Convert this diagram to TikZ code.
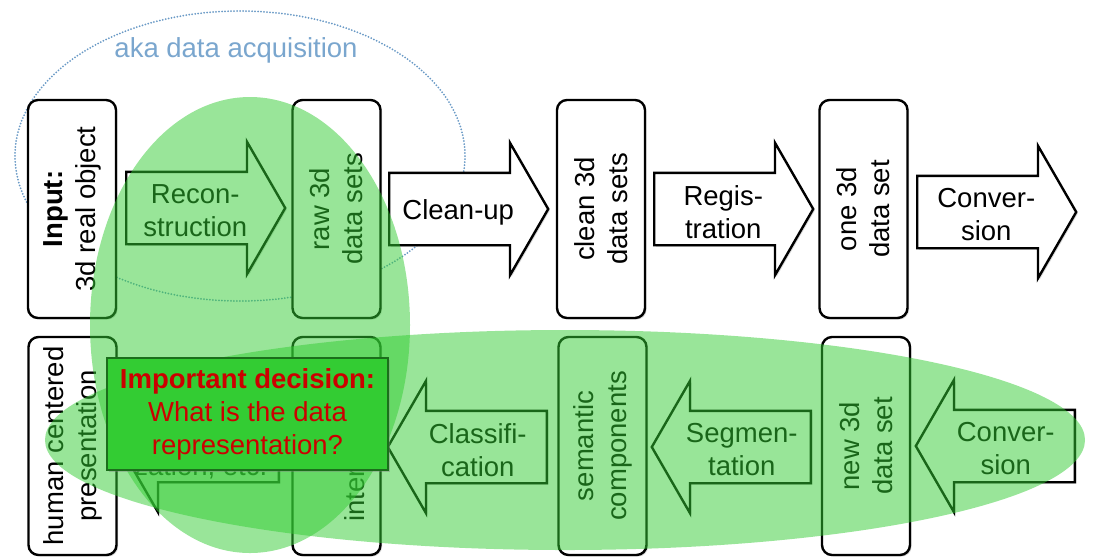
\documentclass[tikz,border=0pt]{standalone}
\usepackage{fontspec}
\setmainfont{Liberation Sans}
\usetikzlibrary{positioning, shapes.arrows, shadows}
\definecolor{acqblue}{HTML}{7AA6CE}
\definecolor{acqdots}{HTML}{6A9AC6}
\definecolor{blobgreen}{HTML}{33CC33}
\definecolor{decfill}{HTML}{33CC33}
\definecolor{decline}{HTML}{1B6E1B}
\definecolor{decred}{HTML}{CC0000}
\tikzset{
  stage/.style={rectangle, draw, rounded corners=5pt, line width=1.2pt, fill=white,
    rotate=90, minimum width=109pt, minimum height=44pt, inner sep=2pt, align=center,
    drop shadow={shadow xshift=0.8pt, shadow yshift=-0.8pt, opacity=0.3}},
  fwd arrow/.style={single arrow, draw, line width=1.2pt, fill=white,
    single arrow head extend=15pt, single arrow tip angle=120, minimum height=79.5pt,
    inner sep=2pt, anchor=tail,
    drop shadow={shadow xshift=0.8pt, shadow yshift=-0.8pt, opacity=0.3},
    execute at begin node={\begin{minipage}[c][31pt][c]{56pt}\centering\vspace*{3pt}},
    execute at end node={\end{minipage}}},
  back arrow/.style={fwd arrow, shape border rotate=180},
  blob/.style={fill=blobgreen, fill opacity=0.5},
}

\begin{document}
\begin{tikzpicture}[x=0.5pt, y=-0.5pt, font=\fontsize{13.75pt}{16.5pt}\selectfont]
  \useasboundingbox (0,0) rectangle (1095,559);
  % acquisition
  \draw[acqdots, line width=1pt, dash pattern=on 0pt off 1.5pt, line cap=round]
    (240,156) ellipse [x radius=112.5pt, y radius=72.5pt];
  \node[acqblue, anchor=base] (aka) at (236,57) {aka data acquisition};
  % first row
  \node[stage] (input) at (72,209) {\textbf{Input:}\\3d real object};
  \node[stage] (raw) at (336.5,209) {raw 3d\\data sets};
  \node[stage] (clean) at (601,209) {clean 3d\\data sets};
  \node[stage] (one) at (863.5,209) {one 3d\\data set};
  \node[fwd arrow] (recon) at (125,208) {Recon-\\struction};
  \node[fwd arrow] (cleanup) at (388,209) {Clean-up};
  \node[fwd arrow] (regis) at (653,209) {Regis-\\tration};
  \node[fwd arrow] (convto) at (916,212) {Conver-\\sion};
  % second row
  \node[stage] (human) at (72.5,446) {human centered\\presentation};
  \node[stage] (inter) at (336.5,446) {\strut\\intermediate};
  \node[stage] (semantic) at (602.5,446) {semantic\\components};
  \node[stage] (new) at (866,446) {new 3d\\data set};
  \node[back arrow] (visual) at (280,446) {\strut\\\hspace*{-9pt}\makebox[0pt]{zation, etc.}};
  \node[back arrow] (classif) at (548,447) {Classifi-\\cation};
  \node[back arrow] (segment) at (812,447) {Segmen-\\tation};
  \node[back arrow] (convback) at (1076,446) {Conver-\\sion};
  % highlights
  \fill[blob] (250,325) ellipse [x radius=80pt, y radius=114pt];
  \fill[blob] (565,440) ellipse [x radius=260pt, y radius=55pt];
  \node[draw=decline, fill=decfill, line width=0.8pt, text=decred, align=center,
    minimum width=140.5pt, minimum height=56pt,
    drop shadow={shadow xshift=0.8pt, shadow yshift=-0.8pt, opacity=0.4}]
    (decision) at (247.5,414) {\textbf{Important decision:}\\What is the data\\representation?};
\end{tikzpicture}
\end{document}
